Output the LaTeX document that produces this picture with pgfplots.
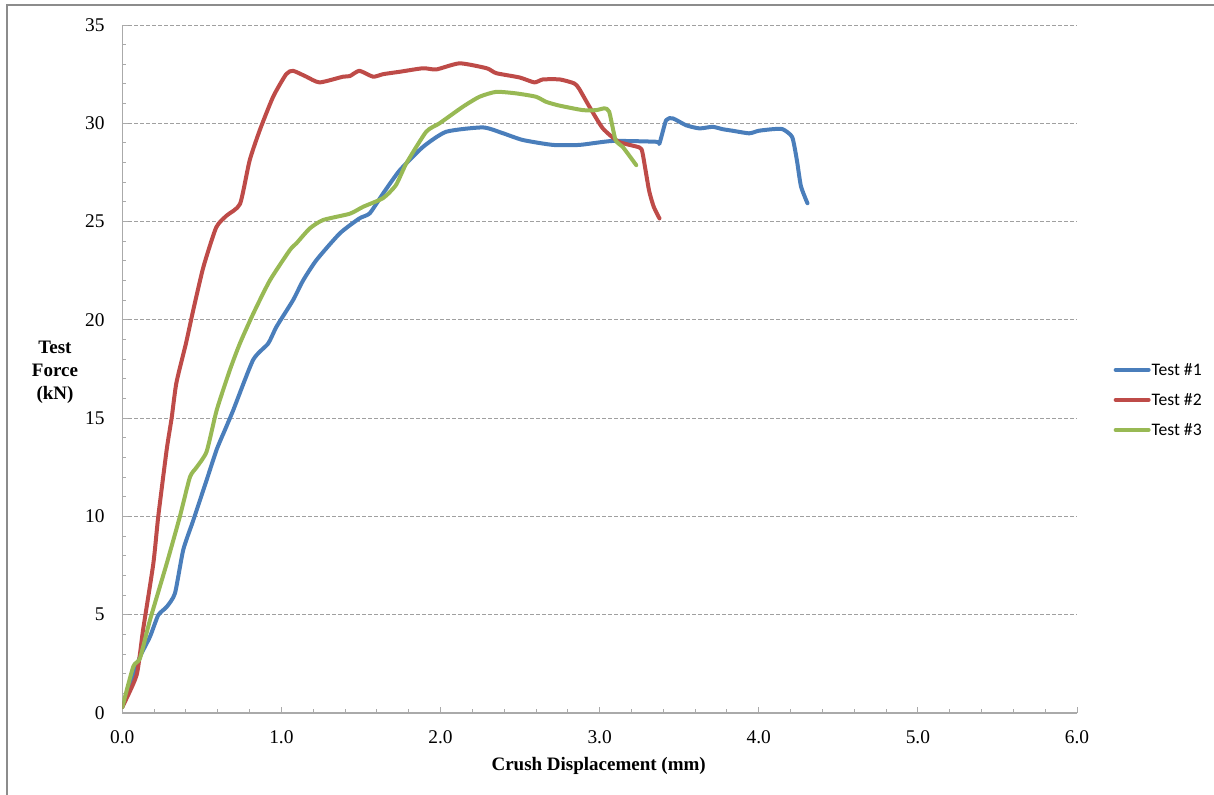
\documentclass[border=0pt]{standalone}
\usepackage{fontspec}
\setmainfont{Liberation Serif}
\newfontfamily\legfont{Carlito}
\usepackage{pgfplots}
\usepackage{pgfplotstable}
\pgfplotsset{compat=1.18}
\definecolor{cone}{RGB}{74,126,187}
\definecolor{ctwo}{RGB}{190,75,72}
\definecolor{cthree}{RGB}{152,185,84}
\definecolor{axgray}{RGB}{170,170,170}
\definecolor{gridgray}{RGB}{160,160,160}
\definecolor{framegray}{RGB}{140,140,140}

\pgfplotstableread{
x y
0 0.3
0.06 1.6
0.111 2.86
0.174 3.88
0.226 4.98
0.279 5.4
0.331 6.09
0.383 8.3
0.446 9.8
0.53 11.85
0.593 13.4
0.645 14.4
0.697 15.4
0.822 17.96
0.917 18.8
0.969 19.65
1.073 21.0
1.136 22.0
1.22 23.04
1.367 24.4
1.49 25.16
1.555 25.42
1.64 26.44
1.743 27.6
1.89 28.8
2.036 29.57
2.266 29.79
2.39 29.5
2.517 29.15
2.706 28.9
2.873 28.9
3.08 29.1
3.355 29.06
3.376 28.98
3.418 30.16
3.46 30.25
3.543 29.9
3.627 29.74
3.71 29.82
3.773 29.7
3.836 29.62
3.94 29.49
4.0 29.62
4.087 29.7
4.15 29.7
4.21 29.3
4.24 28.1
4.265 26.8
4.306 25.93
}\testone

\pgfplotstableread{
x y
0 0.3
0.09 1.93
0.13 4.2
0.195 7.6
0.226 10.0
0.279 13.4
0.31 15.0
0.34 16.8
0.40 18.8
0.446 20.5
0.51 22.7
0.59 24.7
0.655 25.3
0.74 25.9
0.80 28.1
0.864 29.65
0.948 31.35
1.03 32.5
1.073 32.67
1.157 32.37
1.24 32.08
1.387 32.37
1.43 32.4
1.49 32.67
1.576 32.37
1.64 32.5
1.743 32.62
1.89 32.8
1.974 32.74
2.12 33.05
2.29 32.8
2.35 32.55
2.497 32.33
2.59 32.08
2.643 32.23
2.75 32.23
2.84 32.03
2.87 31.77
2.936 30.84
3.02 29.74
3.12 29.06
3.25 28.77
3.27 28.47
3.31 26.6
3.34 25.75
3.376 25.16
}\testtwo

\pgfplotstableread{
x y
0 0.3
0.069 2.36
0.111 2.78
0.174 4.73
0.279 7.6
0.362 10.0
0.425 12.0
0.467 12.5
0.53 13.3
0.593 15.4
0.676 17.45
0.739 18.8
0.822 20.3
0.927 22.0
1.053 23.55
1.095 23.9
1.178 24.65
1.262 25.08
1.43 25.4
1.513 25.75
1.64 26.2
1.72 26.86
1.785 27.96
1.91 29.57
1.994 30.0
2.14 30.84
2.245 31.35
2.35 31.6
2.476 31.52
2.60 31.35
2.664 31.09
2.747 30.9
2.894 30.67
2.978 30.67
3.03 30.76
3.06 30.59
3.10 29.15
3.145 28.8
3.23 27.87
}\testthree

\begin{document}
\begin{tikzpicture}
\useasboundingbox (-61.15pt,-40.5pt) rectangle (545.85pt,356.5pt);
\draw[framegray, line width=1pt] (-57.65pt,-80pt) -- (-57.65pt,354pt) -- (620pt,354pt);
\begin{axis}[
  at={(0,0)}, anchor=origin,
  scale only axis, width=477.35pt, height=344pt,
  xmin=0, xmax=6, ymin=0, ymax=35,
  axis x line*=bottom, axis y line*=left,
  axis line style={draw=axgray, line width=0.75pt},
  xtick={0,1,...,6}, ytick={0,5,...,35},
  minor x tick num=4, minor y tick num=4,
  major tick length=3pt, minor tick length=2pt,
  tick style={draw=axgray, line width=0.5pt},
  ymajorgrids,
  major grid style={draw=gridgray, dash pattern=on 2pt off 1pt, line width=0.5pt},
  /pgf/number format/assume math mode=true,
  tick label style={font=\fontsize{9.7}{11}\selectfont},
  xticklabel style={/pgf/number format/.cd, fixed, fixed zerofill, precision=1, /tikz/.cd, yshift=-5.3pt},
  yticklabel style={xshift=-5.3pt},
  xlabel={Crush Displacement (mm)},
  xlabel style={font=\bfseries\fontsize{9.5}{11}\selectfont, at={(axis description cs:0.499,-0.077)}, anchor=center},
  ylabel={Test\\Force\\(kN)},
  ylabel style={rotate=-90, align=center, font=\bfseries\fontsize{9.5}{11.5}\selectfont, at={(axis description cs:-0.0705,0.4956)}, anchor=center},
  legend style={at={(axis description cs:1.0317,0.455)}, anchor=west, draw=none, fill=none,
    font=\legfont\fontsize{8.8}{10}\selectfont, row sep=7.5pt,
    nodes={inner sep=0.5pt, text height=6pt, text depth=0.5pt}},
  legend cell align=left,
  legend image code/.code={\draw[#1] (0pt,0pt) -- (16.5pt,0pt);},
  every axis plot/.append style={line width=2pt, line join=round, line cap=round, no markers, smooth, tension=0.35},
]
\addplot[cone] table[x=x,y=y] {\testone};
\addlegendentry{Test \#1}
\addplot[ctwo] table[x=x,y=y] {\testtwo};
\addlegendentry{Test \#2}
\addplot[cthree] table[x=x,y=y] {\testthree};
\addlegendentry{Test \#3}
\end{axis}
\end{tikzpicture}
\end{document}
